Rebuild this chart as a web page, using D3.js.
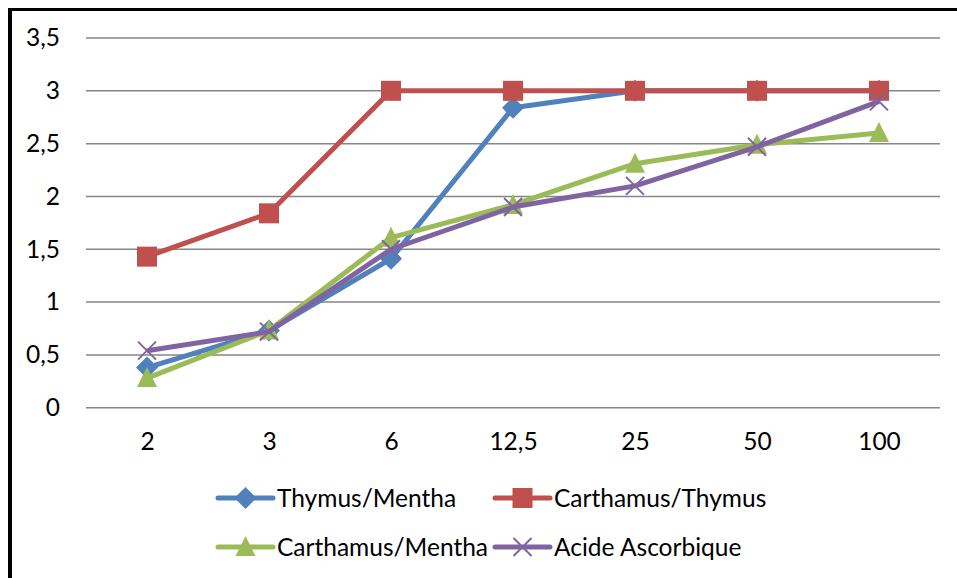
<!DOCTYPE html>
<html>
<head>
<meta charset="utf-8">
<script src="https://cdn.jsdelivr.net/npm/d3@7"></script>
<style>
  body { margin: 0; background: #fff; }
  svg text { font-family: Lato, "Open Sans", sans-serif; fill: #000; }
</style>
</head>
<body>
<div id="chart"></div>
<script>
// Données
const categories = ["2", "3", "6", "12,5", "25", "50", "100"];
const thymusMentha = [0.38, 0.73, 1.41, 2.84, 3, 3, 3];
const carthamusThymus = [1.43, 1.84, 3, 3, 3, 3, 3];
const carthamusMentha = [0.28, 0.73, 1.61, 1.92, 2.31, 2.49, 2.6];
const acideAscorbique = [0.54, 0.72, 1.5, 1.9, 2.1, 2.47, 2.9];
const yTicks = [0, 0.5, 1, 1.5, 2, 2.5, 3, 3.5];

const series = [
    { name: "Thymus/Mentha", values: thymusMentha, color: "#4F81BD", marker: "diamond" },
    { name: "Carthamus/Thymus", values: carthamusThymus, color: "#C0504D", marker: "square" },
    { name: "Carthamus/Mentha", values: carthamusMentha, color: "#9BBB59", marker: "triangle" },
    { name: "Acide Ascorbique", values: acideAscorbique, color: "#8064A2", marker: "cross" }
];

const width = 957;
const height = 578;
const plot = { left: 86, right: 940, top: 38, bottom: 407.7 };
const fontSize = "24.5px";

const svg = d3.select("#chart").append("svg")
    .attr("width", width)
    .attr("height", height);

// cadre noir (haut et gauche visibles)
svg.append("line").attr("x1", 8).attr("x2", width).attr("y1", 9.5).attr("y2", 9.5)
    .attr("stroke", "#000").attr("stroke-width", 3);
svg.append("line").attr("x1", 10).attr("x2", 10).attr("y1", 8).attr("y2", height)
    .attr("stroke", "#000").attr("stroke-width", 4);

const x = d3.scalePoint()
    .domain(categories)
    .range([plot.left, plot.right])
    .padding(0.5);

const y = d3.scaleLinear()
    .domain([0, 3.5])
    .range([plot.bottom, plot.top]);

const fmt = d => String(d).replace(".", ",");

// grille
svg.append("g")
    .selectAll("line")
    .data(yTicks)
    .enter().append("line")
    .attr("x1", plot.left)
    .attr("x2", plot.right)
    .attr("y1", d => y(d))
    .attr("y2", d => y(d))
    .attr("stroke", "#868686")
    .attr("stroke-width", 1.5);

// axe Y
const yAxis = svg.append("g")
    .attr("transform", `translate(${plot.left},0)`)
    .call(d3.axisLeft(y).tickValues(yTicks).tickFormat(fmt).tickSize(0).tickPadding(26));
yAxis.select(".domain").remove();
yAxis.selectAll("text").style("font-size", fontSize).style("font-family", "Lato, sans-serif").attr("fill", "#000");

// axe X
const xAxis = svg.append("g")
    .attr("transform", `translate(0,${plot.bottom})`)
    .call(d3.axisBottom(x).tickSize(0).tickPadding(25));
xAxis.select(".domain").remove();
xAxis.selectAll("text").style("font-size", fontSize).style("font-family", "Lato, sans-serif").attr("fill", "#000");

const line = d3.line()
    .x((d, i) => x(categories[i]))
    .y(d => y(d));

function drawMarker(g, type, color, cx, cy) {
    if (type === "diamond") {
        g.append("path")
            .attr("d", `M${cx},${cy - 11}L${cx + 11},${cy}L${cx},${cy + 11}L${cx - 11},${cy}Z`)
            .attr("fill", color);
    } else if (type === "square") {
        g.append("rect")
            .attr("x", cx - 10).attr("y", cy - 10)
            .attr("width", 20).attr("height", 20)
            .attr("fill", color);
    } else if (type === "triangle") {
        g.append("path")
            .attr("d", `M${cx},${cy - 11}L${cx + 10},${cy + 9}L${cx - 10},${cy + 9}Z`)
            .attr("fill", color);
    } else if (type === "cross") {
        g.append("path")
            .attr("d", `M${cx - 9},${cy - 9}L${cx + 9},${cy + 9}M${cx - 9},${cy + 9}L${cx + 9},${cy - 9}`)
            .attr("stroke", color)
            .attr("stroke-width", 2)
            .attr("fill", "none");
    }
}

// séries
series.forEach(s => {
    const g = svg.append("g");
    g.append("path")
        .datum(s.values)
        .attr("d", line)
        .attr("fill", "none")
        .attr("stroke", s.color)
        .attr("stroke-width", 5)
        .attr("stroke-linejoin", "round");
    s.values.forEach((v, i) => drawMarker(g, s.marker, s.color, x(categories[i]), y(v)));
});

// légende
const legendPos = [
    { x: 218, y: 498 },
    { x: 495, y: 498 },
    { x: 218, y: 547 },
    { x: 495, y: 547 }
];
series.forEach((s, i) => {
    const p = legendPos[i];
    const g = svg.append("g");
    g.append("line")
        .attr("x1", p.x).attr("x2", p.x + 55)
        .attr("y1", p.y).attr("y2", p.y)
        .attr("stroke", s.color).attr("stroke-width", 5)
        .attr("stroke-linecap", "round");
    drawMarker(g, s.marker, s.color, p.x + 27.5, p.y);
    g.append("text")
        .attr("x", p.x + 59)
        .attr("y", p.y)
        .attr("dy", "0.35em")
        .style("font-size", fontSize)
        .text(s.name);
});
</script>
</body>
</html>
